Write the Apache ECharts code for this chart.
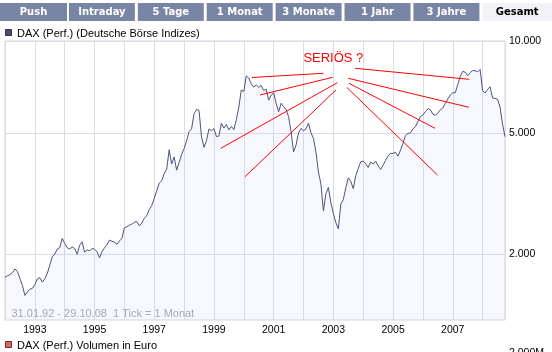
<!DOCTYPE html>
<html><head><meta charset="utf-8">
<script src="https://cdn.jsdelivr.net/npm/echarts@6/dist/echarts.min.js"></script>
<style>html,body{margin:0;padding:0;background:#fff}#c{width:552px;height:352px}</style>
</head><body><div id="c"></div><script>
const tabLabels = ['Push','Intraday','5 Tage','1 Monat','3 Monate','1 Jahr','3 Jahre','Gesamt'];
const activeTab = 'Gesamt';
const seriesName = 'DAX (Perf.) (Deutsche Börse Indizes)';
const volumeLegend = 'DAX (Perf.) Volumen in Euro';
const rangeNote = '31.01.92 - 29.10.08  1 Tick = 1 Monat';
const volumeTickLabel = '2.000M';
const startYear = 1992;
const endYear = 2008.75;

// monthly closes, Jan 1992 .. Oct 2008
const dax1992 = [1680,1700,1715,1740,1790,1755,1665,1580,1465,1505,1535,1545];
const dax1993 = [1590,1660,1675,1620,1660,1730,1840,1960,2000,2080,2100,2255];
const dax1994 = [2170,2100,2080,2110,2090,2000,2140,2195,2030,2065,2050,2090];
const dax1995 = [2075,2040,1945,2040,2100,2150,2225,2205,2190,2155,2210,2255];
const dax1996 = [2440,2460,2490,2510,2545,2560,2475,2530,2620,2680,2800,2890];
const dax1997 = [3050,3230,3420,3480,3680,3800,4400,3950,4170,3770,4000,4250];
const dax1998 = [4440,4710,5050,5150,5780,5960,5920,4850,4480,4720,5150,5080];
const dax1999 = [5160,4860,4880,5380,5180,5320,5110,5250,5120,5520,6080,6910];
const dax2000 = [6830,7680,7560,7250,7060,7180,7050,7150,6880,6950,6400,6650];
const dax2001 = [6760,6250,5860,6250,6100,5950,5650,5050,4330,4560,5000,5170];
const dax2002 = [5080,5150,5380,5000,4800,4330,3720,3400,2770,3160,3310,2950];
const dax2003 = [2720,2540,2420,2920,3020,3300,3560,3470,3280,3620,3820,4020];
const dax2004 = [4040,3960,3850,4010,3950,4040,3900,3790,3920,4060,4200,4280];
const dax2005 = [4280,4320,4190,4390,4620,4900,4980,5000,5150,5240,5450,5650];
const dax2006 = [5720,5870,6000,5950,5760,5710,5800,5950,6030,6250,6450,6650];
const dax2007 = [6770,6760,7200,7650,7950,7900,7700,7870,8000,7990,7920,8070];
const dax2008 = [6860,6760,6940,7080,6500,6490,6440,6080,5350,4860];

const xLabelYears = [1993,1995,1997,1999,2001,2003,2005,2007];
const yTickValues = [2000,5000,10000];

// hand-drawn annotation (year, index value)
const annotationText = 'SERIÖS ?';
const annotationTextAt = [2003.0, 8795];
const annotationLines = [
  [[2000.264,7591],[2002.670,7837]],
  [[2000.543,6653],[2002.978,7603]],
  [[1999.226,4447],[2003.132,7300]],
  [[2000.040,3591],[2003.089,6910]],
  [[2003.725,8138],[2007.554,7488]],
  [[2003.501,7545],[2007.544,6062]],
  [[2003.524,7267],[2006.405,5174]],
  [[2003.447,7050],[2006.489,3636]]
];

const allValues = [].concat(dax1992,dax1993,dax1994,dax1995,dax1996,dax1997,dax1998,dax1999,
  dax2000,dax2001,dax2002,dax2003,dax2004,dax2005,dax2006,dax2007,dax2008);
const seriesData = allValues.map((v,i)=>[startYear + i/12, v]);

const FONT = '"Liberation Sans", Arial, sans-serif';
function fmtDE(v){ return String(Math.round(v)).replace(/\B(?=(\d{3})+(?!\d))/g,'.'); }

const graphics = [];
const tabStep = 68.9;
tabLabels.forEach((t,k)=>{
  const x0 = k*tabStep;
  const w = (k===tabLabels.length-1) ? 552-x0 : (k===0 ? 67 : 66);
  const active = t===activeTab;
  graphics.push({type:'rect', shape:{x:x0,y:3,width:w,height:18}, style:{fill: active?'#f2f2f8':'#7985a5'}, silent:true});
  graphics.push({type:'text', x:x0+w/2, y:12.5, style:{text:t, align:'center', verticalAlign:'middle', font:'bold 10px "DejaVu Sans", Verdana, sans-serif', fill: active?'#000':'#fff'}, silent:true});
});
graphics.push({type:'rect', shape:{x:5.5,y:29.5,width:6,height:6}, style:{fill:'#4a4e68', stroke:'#2e3048', lineWidth:1}});
graphics.push({type:'text', x:17, y:33.5, style:{text:seriesName, align:'left', verticalAlign:'middle', font:'11px '+FONT, fill:'#000'}});
graphics.push({type:'rect', shape:{x:5.5,y:341.5,width:6,height:6}, style:{fill:'#e06666', stroke:'#6a2c2c', lineWidth:1}});
graphics.push({type:'text', x:17, y:345.5, style:{text:volumeLegend, align:'left', verticalAlign:'middle', font:'11px '+FONT, fill:'#000'}});
graphics.push({type:'text', x:11.5, y:313.5, z:100, style:{text:rangeNote, align:'left', verticalAlign:'middle', font:'11px '+FONT, fill:'#a8a8b2'}});
graphics.push({type:'text', x:509, y:347.5, style:{text:volumeTickLabel, align:'left', verticalAlign:'top', font:'10.5px '+FONT, fill:'#000'}});

const chart = echarts.init(document.getElementById('c'), null, {renderer:'canvas'});
chart.setOption({
  animation:false,
  grid:{left:5, right:47, top:41, bottom:32, show:true, borderColor:'#d6d6de', borderWidth:1, backgroundColor:'transparent'},
  xAxis:{type:'value', min:startYear, max:endYear, interval:1,
    axisLine:{show:false}, axisTick:{show:false},
    splitLine:{show:true, lineStyle:{color:'#dcdce4', width:1}},
    axisLabel:{margin:5, fontSize:10.5, fontFamily:FONT, color:'#000', showMaxLabel:false,
      formatter:v=>{const r=Math.round(v); return (Math.abs(v-r)<1e-6 && xLabelYears.includes(r))?String(r):'';}}},
  yAxis:{type:'log', logBase:10, min:1217, max:10000, position:'right',
    axisLine:{show:false}, axisTick:{show:false, customValues:yTickValues},
    axisLabel:{customValues:yTickValues, margin:4, fontSize:10.5, fontFamily:FONT, color:'#000', formatter:v=>fmtDE(v)},
    splitLine:{show:true, lineStyle:{color:'#dcdce4', width:1}}},
  series:[{
    type:'line', name:seriesName, data:seriesData, showSymbol:false, symbol:'none',
    lineStyle:{color:'#4d5379', width:1}, itemStyle:{color:'#4d5379'},
    areaStyle:{color:'rgba(200,200,245,0.2)', origin:'start'},
    emphasis:{disabled:true},
    markLine:{silent:true, symbol:['none','none'], label:{show:false}, animation:false,
      lineStyle:{color:'#ff0000', width:1, type:'solid'}, emphasis:{disabled:true},
      data: annotationLines.map(l=>[{coord:l[0]},{coord:l[1]}])},
    markPoint:{silent:true, symbol:'circle', symbolSize:1, itemStyle:{color:'transparent'},
      label:{show:true, position:'inside', formatter:annotationText, color:'#ff0000', fontSize:13, fontFamily:FONT},
      data:[{coord:annotationTextAt}]}
  }],
  graphic: graphics
});
</script></body></html>
